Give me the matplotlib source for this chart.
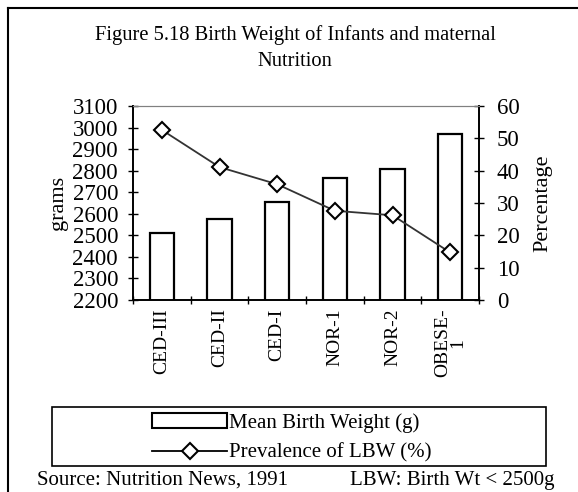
import matplotlib.pyplot as plt
from matplotlib.lines import Line2D
from matplotlib.patches import Rectangle
import numpy as np

# Дані з графіка
categories = ['CED-III', 'CED-II', 'CED-I', 'NOR-1', 'NOR-2', 'OBESE-\n1']
birth_weight = [2512, 2576, 2655, 2767, 2809, 2968]
lbw_percent = [52.6, 41.1, 35.8, 27.6, 26.2, 14.7]

plt.rcParams['font.family'] = ['Liberation Serif', 'DejaVu Serif']

fig = plt.figure(figsize=(5.78, 4.92), dpi=100)
W, H = 578, 492

def fx(px):
    return px / W

def fy(py):
    return 1 - py / H

ax = fig.add_axes([fx(133), fy(300), fx(479) - fx(133), fy(106) - fy(300)])
ax2 = ax.twinx()

x = np.arange(len(categories))
ax.bar(x, birth_weight, width=0.42, bottom=0, color='white', edgecolor='black', linewidth=1.6, zorder=2)
ax.set_ylim(2200, 3100)
ax.set_xlim(-0.5, len(categories) - 0.5)
ax.set_yticks(np.arange(2200, 3101, 100))
ax.set_xticks(x)
ax.set_xticklabels(categories, rotation=90, va='top', ha='center', fontsize=14, linespacing=0.9)
ax.tick_params(axis='x', length=0, pad=6)
ax.set_xticks(np.arange(-0.5, len(categories), 1), minor=True)
ax.tick_params(axis='x', which='minor', length=6, width=1, direction='inout')
ax.tick_params(axis='y', labelsize=16.5, length=6.5, width=1, pad=7.5, direction='inout')
ax.set_ylabel('grams', fontsize=16, labelpad=3)

ax2.plot(x, lbw_percent, color='#333333', linewidth=1.3, marker='D', markersize=8.5,
         markerfacecolor='white', markeredgecolor='black', markeredgewidth=1.5, zorder=3)
ax2.set_ylim(0, 60)
ax2.set_yticks(np.arange(0, 61, 10))
ax2.tick_params(axis='y', labelsize=16.5, length=7.5, width=1, pad=9, direction='inout')
ax2.set_ylabel('Percentage', fontsize=16, labelpad=10)

for a in (ax, ax2):
    a.spines['top'].set_color('#808080')
    a.spines['left'].set_linewidth(1.2)
    a.spines['right'].set_linewidth(1.2)
    a.spines['bottom'].set_linewidth(1.2)

# Заголовок
fig.text(fx(295), fy(35), 'Figure 5.18 Birth Weight of Infants and maternal',
         ha='center', va='center', fontsize=14.8)
fig.text(fx(295), fy(61), 'Nutrition', ha='center', va='center', fontsize=14.8)

# Рамка легенди
fig.patches.append(Rectangle((fx(52), fy(466)), fx(546) - fx(52), fy(407) - fy(466),
                             transform=fig.transFigure, fill=False, edgecolor='black', linewidth=1.2))
handles = [
    Rectangle((0, 0), 1, 1, facecolor='white', edgecolor='black', linewidth=1.5),
    Line2D([], [], color='black', linewidth=1.3, marker='D', markersize=8,
           markerfacecolor='white', markeredgecolor='black', markeredgewidth=1.5),
]
fig.legend(handles, ['Mean Birth Weight (g)', 'Prevalence of LBW (%)'],
           loc='center', bbox_to_anchor=(fx(292), fy(438)), frameon=False,
           fontsize=15, handlelength=3.6, handletextpad=0.1, labelspacing=0.5,
           borderpad=0)

# Зовнішня рамка
fig.add_artist(Line2D([fx(8), fx(8)], [fy(8), 0], transform=fig.transFigure, color='black', linewidth=1.5))
fig.add_artist(Line2D([fx(8), 1], [fy(8), fy(8)], transform=fig.transFigure, color='black', linewidth=1.5))

# Джерело
fig.text(fx(37), fy(480), 'Source: Nutrition News, 1991', ha='left', va='center', fontsize=15)
fig.text(fx(555), fy(480), 'LBW: Birth Wt < 2500g', ha='right', va='center', fontsize=15)

fig.savefig('out.png', dpi=100)
